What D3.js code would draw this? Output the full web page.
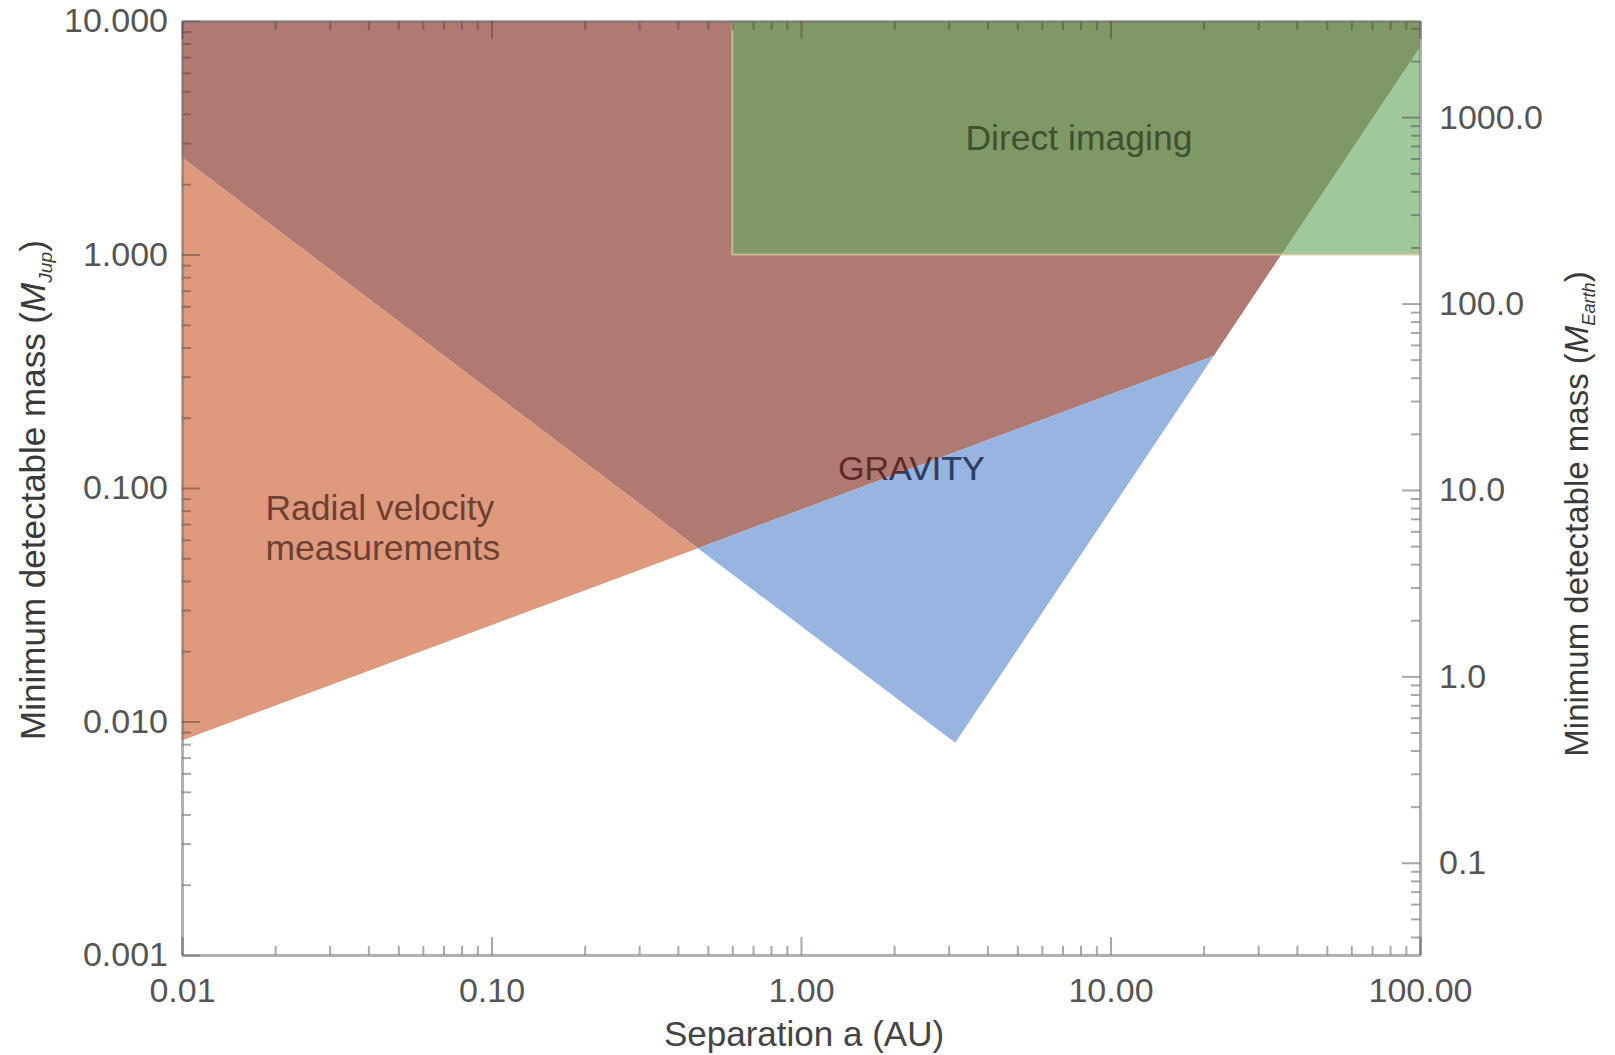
<!DOCTYPE html>
<html>
<head>
<meta charset="utf-8">
<script src="https://cdn.jsdelivr.net/npm/d3@7"></script>
<style>
body { margin: 0; background: #fff; }
text { font-family: "Liberation Sans", Arial, Helvetica, sans-serif; }
</style>
</head>
<body>
<svg id="chart"></svg>
<script>
// detection limits: separation a in AU, minimum mass in M_Jup
var gravitySep = [0.01, 3.15, 100]
var gravityMass = [2.6, 0.0081, 7.74]
var rvSep = [0.01, 100]
var rvMass = [0.0083, 0.785]
var imagingSep = [0.6, 100]
var imagingMass = [1, 10]

var sepTicks = [0.01, 0.1, 1, 10, 100]
var sepTickLabels = ["0.01", "0.10", "1.00", "10.00", "100.00"]
var jupTicks = [0.001, 0.01, 0.1, 1, 10]
var jupTickLabels = ["0.001", "0.010", "0.100", "1.000", "10.000"]
var earthTicks = [0.1, 1, 10, 100, 1000]
var earthTickLabels = ["0.1", "1.0", "10.0", "100.0", "1000.0"]
// right axis span as printed on the figure
var earthSpan = [0.032, 3280]

var regionNames = ["Radial velocity", "measurements", "GRAVITY", "Direct imaging"]

var margin = {top: 21, right: 195, bottom: 100, left: 182}
var width = 1615 - margin.left - margin.right
var height = 1055 - margin.top - margin.bottom

var x = d3.scaleLog().domain([sepTicks[0], sepTicks[4]]).range([0, width])
var y = d3.scaleLog().domain([jupTicks[0], jupTicks[4]]).range([height, 0])
var yEarth = d3.scaleLog().domain(earthSpan).range([height, 0])

var svg = d3.select("#chart")
    .attr("width", 1615)
    .attr("height", 1055)
  .append("g")
    .attr("transform", "translate(" + margin.left + "," + margin.top + ")")

// where two limit lines cross (straight lines in log-log)
function meet(p1, p2, p3, p4) {
    var L = function(p){ return [Math.log10(p[0]), Math.log10(p[1])] }
    var A = L(p1), B = L(p2), C = L(p3), D = L(p4)
    var den = (B[0]-A[0])*(D[1]-C[1]) - (B[1]-A[1])*(D[0]-C[0])
    var t = ((C[0]-A[0])*(D[1]-C[1]) - (C[1]-A[1])*(D[0]-C[0])) / den
    return [Math.pow(10, A[0] + t*(B[0]-A[0])), Math.pow(10, A[1] + t*(B[1]-A[1]))]
}

var g0 = [gravitySep[0], gravityMass[0]]
var g1 = [gravitySep[1], gravityMass[1]]
var g2 = [gravitySep[2], gravityMass[2]]
var r0 = [rvSep[0], rvMass[0]]
var r1 = [rvSep[1], rvMass[1]]
var xMin = sepTicks[0], xMax = sepTicks[4], yMax = jupTicks[4]

var cross = meet(g0, g1, r0, r1)
var rvArm = meet(g1, g2, r0, r1)
var armDI = meet(g1, g2, [xMin, imagingMass[0]], [xMax, imagingMass[0]])

var both = [[xMin, yMax], g0, cross, rvArm, g2, [xMax, yMax]]
var rvOnly = [g0, cross, r0]
var gravOnly = [cross, g1, rvArm]
var diAll = [[imagingSep[0], imagingMass[1]], [imagingSep[0], imagingMass[0]],
             [imagingSep[1], imagingMass[0]], [imagingSep[1], imagingMass[1]]]
var diShared = [[imagingSep[0], imagingMass[1]], [imagingSep[0], imagingMass[0]], armDI, g2, [xMax, yMax]]

var shape = d3.line()
    .x(function(d){ return x(d[0]) })
    .y(function(d){ return y(d[1]) })

function area(pts, color) {
    svg.append("path")
        .attr("d", shape(pts) + "Z")
        .attr("fill", color)
        .attr("stroke", "none")
}

area(both, "#b07a72")
area(rvOnly, "#df9a7d")
area(gravOnly, "#98b4e0")
area(diAll, "#9fc99a")
area(diShared, "#809866")

// imaging box edge
svg.append("path")
    .attr("d", shape([diAll[0], diAll[1], diAll[2]]))
    .attr("fill", "none")
    .attr("stroke", "#d6c69c")
    .attr("stroke-opacity", 0.75)
    .attr("stroke-width", 2)

svg.append("clipPath")
    .attr("id", "blueclip")
  .append("path")
    .attr("d", shape(gravOnly) + "Z")

// axes
function minors(scale, majors) {
    return scale.ticks().filter(function(t){
        return majors.every(function(m){ return Math.abs(t - m) / m > 1e-6 })
    })
}

function styleAxis(sel) {
    sel.select(".domain")
        .attr("stroke", "rgba(115,115,115,0.55)")
        .attr("stroke-width", 3)
    sel.selectAll(".tick line")
        .attr("stroke", "rgba(70,60,60,0.45)")
        .attr("stroke-width", 2)
    sel.selectAll(".tick text")
        .attr("fill", "#555")
        .attr("font-size", 34)
        .attr("font-family", "Liberation Sans, Arial, sans-serif")
}

function minorAxis(axis, tr) {
    var a = svg.append("g").attr("transform", tr).call(axis.tickSize(-9).tickFormat(""))
    a.select(".domain").remove()
    styleAxis(a)
}

minorAxis(d3.axisLeft(y).tickValues(minors(y, jupTicks)), "translate(0,0)")
minorAxis(d3.axisRight(yEarth).tickValues(minors(yEarth, earthTicks)), "translate(" + width + ",0)")
minorAxis(d3.axisBottom(x).tickValues(minors(x, sepTicks)), "translate(0," + height + ")")
minorAxis(d3.axisTop(x).tickValues(minors(x, sepTicks)), "translate(0,0)")

svg.append("g")
    .call(d3.axisLeft(y).tickValues(jupTicks).tickSizeInner(-18).tickSizeOuter(0).tickPadding(14)
        .tickFormat(function(d, i){ return jupTickLabels[i] }))
    .call(styleAxis)

svg.append("g")
    .attr("transform", "translate(" + width + ",0)")
    .call(d3.axisRight(yEarth).tickValues(earthTicks).tickSizeInner(-18).tickSizeOuter(0).tickPadding(19)
        .tickFormat(function(d, i){ return earthTickLabels[i] }))
    .call(styleAxis)

svg.append("g")
    .attr("transform", "translate(0," + height + ")")
    .call(d3.axisBottom(x).tickValues(sepTicks).tickSizeInner(-18).tickSizeOuter(0).tickPadding(23)
        .tickFormat(function(d, i){ return sepTickLabels[i] }))
    .call(styleAxis)

svg.append("g")
    .call(d3.axisTop(x).tickValues(sepTicks).tickSizeInner(-18).tickSizeOuter(0).tickFormat(""))
    .call(styleAxis)

// axis titles
svg.append("text")
    .attr("x", width / 2 + 3)
    .attr("y", height + 91)
    .attr("text-anchor", "middle")
    .attr("font-size", 35)
    .attr("fill", "#444")
    .text("Separation a (AU)")

function massTitle(px, py, sub, size) {
    var t = svg.append("text")
        .attr("transform", "translate(" + px + "," + py + ") rotate(-90)")
        .attr("text-anchor", "middle")
        .attr("font-size", size)
        .attr("fill", "#3a3a3a")
    t.append("tspan").text("Minimum detectable mass (")
    t.append("tspan").attr("font-style", "italic").text("M")
    t.append("tspan").attr("font-style", "italic").attr("font-size", size * 0.55).attr("dy", 7).text(sub)
    t.append("tspan").attr("dy", -7).text(")")
}
massTitle(45 - margin.left, 490 - margin.top, "Jup", 35)
massTitle(1588 - margin.left, 514 - margin.top, "Earth", 33)

// region labels
svg.append("text")
    .attr("x", x(0.0186)).attr("y", y(0.073))
    .attr("font-size", 35.5).attr("fill", "#6e4033")
    .text(regionNames[0])
svg.append("text")
    .attr("x", x(0.0186)).attr("y", y(0.049))
    .attr("font-size", 35.5).attr("fill", "#6e4033")
    .text(regionNames[1])

svg.append("text")
    .attr("x", x(1.317)).attr("y", y(0.108))
    .attr("font-size", 34).attr("fill", "#5e2b27")
    .text(regionNames[2])
svg.append("text")
    .attr("x", x(1.317)).attr("y", y(0.108))
    .attr("font-size", 34).attr("fill", "#2c4169")
    .attr("clip-path", "url(#blueclip)")
    .text(regionNames[2])

svg.append("text")
    .attr("x", x(3.4)).attr("y", y(2.8))
    .attr("font-size", 35.5).attr("fill", "#3e5130")
    .text(regionNames[3])
</script>
</body>
</html>
